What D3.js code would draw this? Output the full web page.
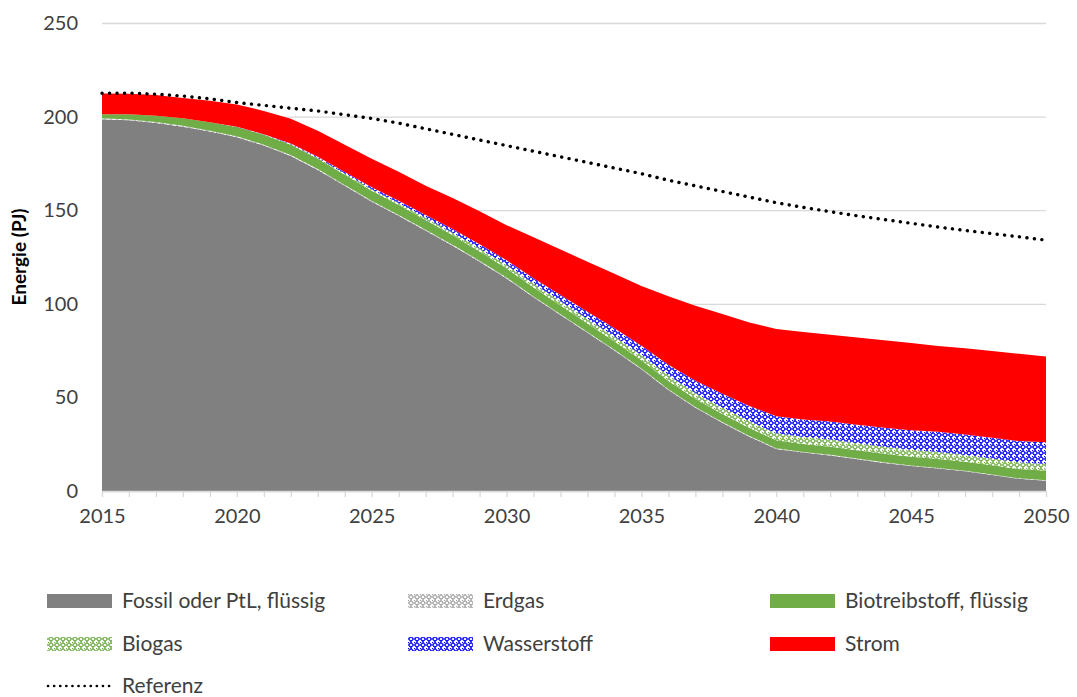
<!DOCTYPE html>
<html>
<head>
<meta charset="utf-8">
<script src="https://cdn.jsdelivr.net/npm/d3@7"></script>
<style>
  body { margin: 0; background: #fff; }
  text { font-family: Lato, "Open Sans", sans-serif; fill: #404040; }
  .grid line { stroke: #d9d9d9; stroke-width: 1.3; }
  .x-axis path, .x-axis line { stroke: #d9d9d9; stroke-width: 1.3; }
</style>
</head>
<body>
<div id="chart"></div>
<script>
// values (PJ per year)
const years = d3.range(2015, 2051);
const fossil = [198.6, 198.0, 196.6, 194.6, 192.0, 189.0, 184.5, 179.0, 171.5, 163.0,
  154.5, 147.0, 139.0, 131.0, 122.5, 113.5, 103.5, 94.0, 84.5, 75.0,
  65.0, 54.0, 44.5, 36.5, 29.0, 22.5, 20.5, 19.0, 17.0, 15.0,
  13.3, 12.0, 10.5, 8.5, 6.5, 5.5];
const erdgas = [0.5, 0.5, 0.5, 0.5, 0.5, 0.5, 0.5, 0.5, 0.5, 0.5,
  0.5, 0.5, 0.5, 0.5, 0.5, 0.5, 0.4, 0.4, 0.4, 0.4,
  0.4, 0.4, 0.4, 0.4, 0.4, 0.4, 0.3, 0.3, 0.3, 0.3,
  0.3, 0.3, 0.3, 0.3, 0.3, 0.3];
const biotreibstoff = [2.2, 2.8, 3.4, 4.0, 4.5, 5.0, 5.3, 5.5, 5.5, 5.5,
  5.4, 5.3, 5.2, 5.1, 5.0, 4.9, 4.8, 4.7, 4.6, 4.5,
  4.4, 4.3, 4.2, 4.2, 4.2, 4.2, 4.3, 4.4, 4.5, 4.6,
  4.7, 4.8, 4.8, 4.9, 4.9, 5.0];
const biogas = [0, 0, 0, 0, 0, 0, 0.1, 0.2, 0.4, 0.6,
  0.8, 1.0, 1.2, 1.4, 1.6, 1.8, 2.0, 2.2, 2.4, 2.6,
  2.8, 3.0, 3.2, 3.4, 3.6, 3.8, 3.8, 3.8, 3.7, 3.7,
  3.7, 3.7, 3.6, 3.6, 3.6, 3.6];
const wasserstoff = [0, 0, 0, 0, 0, 0.1, 0.2, 0.4, 0.6, 0.8,
  1.0, 1.3, 1.6, 1.9, 2.2, 2.6, 3.0, 3.4, 3.9, 4.4,
  5.0, 5.8, 6.6, 7.4, 8.2, 9.0, 9.3, 9.6, 9.9, 10.2,
  10.5, 10.8, 11.0, 11.2, 11.4, 11.7];
const strom = [11.1, 10.9, 11.0, 10.9, 11.5, 11.9, 12.4, 13.2, 14.0, 14.6,
  15.3, 15.4, 15.5, 16.6, 17.7, 18.7, 21.8, 24.3, 26.7, 29.1,
  31.9, 36.5, 40.1, 42.6, 44.6, 46.6, 46.8, 46.4, 46.6, 46.7,
  46.5, 45.9, 46.0, 46.3, 46.6, 45.7];
const referenz = [212.5, 212.5, 212.0, 211.0, 209.5, 207.5, 206.0, 204.5, 203.0, 201.0,
  199.0, 196.5, 193.5, 190.5, 187.5, 184.5, 181.5, 178.5, 175.5, 172.5,
  169.5, 166.0, 163.0, 160.0, 157.0, 154.0, 151.5, 149.2, 147.0, 145.0,
  143.0, 141.0, 139.2, 137.5, 135.8, 134.0];

const seriesNames = ["Fossil oder PtL, flüssig", "Erdgas", "Biotreibstoff, flüssig",
  "Biogas", "Wasserstoff", "Strom"];
const seriesValues = [fossil, erdgas, biotreibstoff, biogas, wasserstoff, strom];
const referenzName = "Referenz";
const yTicks = [0, 50, 100, 150, 200, 250];
const xLabelYears = [2015, 2020, 2025, 2030, 2035, 2040, 2045, 2050];

const width = 1077,
    height = 697,
    margin = ({ top: 23, right: 31, bottom: 206, left: 102 });

const fills = ["#808080", "url(#pat-erdgas)", "#70ad47", "url(#pat-biogas)", "url(#pat-wasserstoff)", "#ff0000"];

const svg = d3.select("#chart")
    .append("svg")
    .attr("width", width)
    .attr("height", height);

// lattice patterns like the excel fill patterns
const defs = svg.append("defs");
function lattice(id, color) {
    let p = defs.append("pattern")
        .attr("id", id)
        .attr("patternUnits", "userSpaceOnUse")
        .attr("width", 6)
        .attr("height", 6);
    p.append("rect").attr("width", 6).attr("height", 6).attr("fill", "#fff");
    p.append("path")
        .attr("d", "M3,0.5 L5.5,3 L3,5.5 L0.5,3 Z")
        .attr("fill", "none")
        .attr("stroke", color)
        .attr("stroke-width", 1.2);
    p.append("rect").attr("x", 0).attr("y", 0).attr("width", 1.2).attr("height", 1.2).attr("fill", color);
}
lattice("pat-erdgas", "#a6a6a6");
lattice("pat-biogas", "#70ad47");
lattice("pat-wasserstoff", "#0000ff");

const table = years.map((yr, i) => {
    let row = { year: yr };
    seriesNames.forEach((n, k) => row[n] = seriesValues[k][i]);
    return row;
});

let x = d3.scaleLinear()
    .domain([2015, 2050])
    .range([margin.left, width - margin.right]);

let y = d3.scaleLinear()
    .domain([0, 250])
    .range([height - margin.bottom, margin.top]);

// gridlines + y labels
svg.append("g")
    .attr("class", "grid")
    .attr("transform", `translate(${margin.left},0)`)
    .call(d3.axisLeft(y).tickValues(yTicks).tickSize(-(width - margin.left - margin.right)).tickPadding(24))
    .call(g => g.select(".domain").remove())
    .call(g => g.selectAll("text").attr("font-size", 20).style("fill", "#404040"));

let stack = d3.stack().keys(seriesNames)(table);

let area = d3.area()
    .x(d => x(d.data.year))
    .y0(d => y(d[0]))
    .y1(d => y(d[1]));

svg.append("g")
    .selectAll("path")
    .data(stack)
    .join("path")
    .attr("d", area)
    .attr("fill", (d, i) => fills[i]);

// x axis with a tick for every year
svg.append("g")
    .attr("class", "x-axis")
    .attr("transform", `translate(0,${height - margin.bottom})`)
    .call(d3.axisBottom(x).tickValues(years).tickSize(6).tickSizeOuter(0).tickPadding(12)
        .tickFormat(d => xLabelYears.includes(d) ? d : ""))
    .call(g => g.selectAll("text").attr("font-size", 20).style("fill", "#404040"));

// reference line
let refLine = d3.line()
    .x((d, i) => x(years[i]))
    .y(d => y(d));

svg.append("path")
    .datum(referenz)
    .attr("d", refLine)
    .attr("fill", "none")
    .attr("stroke", "#000")
    .attr("stroke-width", 3.4)
    .attr("stroke-linecap", "round")
    .attr("stroke-dasharray", "0.1 7.4");

svg.append("text")
    .attr("transform", `translate(26,${(margin.top + height - margin.bottom) / 2}) rotate(-90)`)
    .attr("text-anchor", "middle")
    .attr("font-size", 19)
    .attr("font-weight", "bold")
    .style("fill", "#000")
    .text("Energie (PJ)");

// legend, 3 columns
const legendCols = [47, 408, 770],
    legendRows = [601, 644, 686];

let legend = svg.append("g");
seriesNames.forEach((n, i) => {
    let lx = legendCols[i % 3], ly = legendRows[Math.floor(i / 3)];
    legend.append("rect")
        .attr("x", lx)
        .attr("y", ly - 7)
        .attr("width", 65)
        .attr("height", 14)
        .attr("fill", fills[i]);
    legend.append("text")
        .attr("x", lx + 75)
        .attr("y", ly)
        .attr("dy", "0.35em")
        .attr("font-size", 21)
        .text(n);
});
legend.append("line")
    .attr("x1", 48).attr("x2", 112)
    .attr("y1", legendRows[2]).attr("y2", legendRows[2])
    .attr("stroke", "#000")
    .attr("stroke-width", 2.6)
    .attr("stroke-linecap", "round")
    .attr("stroke-dasharray", "0.1 6");
legend.append("text")
    .attr("x", legendCols[0] + 75)
    .attr("y", legendRows[2])
    .attr("dy", "0.35em")
    .attr("font-size", 21)
    .text(referenzName);
</script>
</body>
</html>
